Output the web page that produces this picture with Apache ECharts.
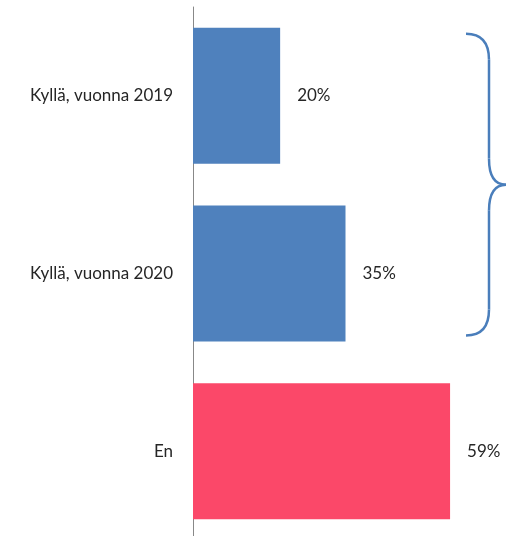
<!DOCTYPE html>
<html>
<head>
<meta charset="utf-8">
<script src="https://cdn.jsdelivr.net/npm/echarts@6/dist/echarts.min.js"></script>
<style>
  html, body { margin: 0; padding: 0; background: #fff; }
  #chart { width: 506px; height: 536px; }
</style>
</head>
<body>
<div id="chart"></div>
<script>
var categories = ['Kyllä, vuonna 2019', 'Kyllä, vuonna 2020', 'En'];
var values = [20, 35, 59];
var barColors = ['#4f81bd', '#4f81bd', '#fb4869'];

var myChart = echarts.init(document.getElementById('chart'));
var font = 'Lato';

var option = {
    animation: false,
    grid: { left: 193, right: 8, top: 7, bottom: -4, outerBoundsMode: 'none' },
    xAxis: {
        type: 'value',
        min: 0,
        max: 70,
        show: false
    },
    yAxis: {
        type: 'category',
        data: categories,
        inverse: true,
        axisLine: { show: true, lineStyle: { color: '#888888', width: 1 } },
        axisTick: { show: false },
        axisLabel: {
            color: '#262626',
            fontFamily: font,
            fontSize: 17,
            margin: 20
        }
    },
    series: [{
        type: 'bar',
        barWidth: 136,
        data: values.map(function (v, i) {
            return { value: v, itemStyle: { color: barColors[i] } };
        }),
        label: {
            show: true,
            position: 'right',
            distance: 17,
            formatter: '{c}%',
            color: '#262626',
            fontFamily: font,
            fontSize: 17
        }
    }]
};

myChart.setOption(option);

// curly brace grouping the two "Kyllä" bars
var braceTop = myChart.convertToPixel({ yAxisIndex: 0 }, 0) - 68 + 6;
var braceBottom = myChart.convertToPixel({ yAxisIndex: 0 }, 1) + 68 - 6;
var braceMid = (braceTop + braceBottom) / 2;
var x0 = 466, x1 = 489, x2 = 506, r = 26;

function braceStyle() {
    return { fill: null, stroke: '#4a7ebb', lineWidth: 2.5 };
}
function curve(sx, sy, cx, cy, ex, ey) {
    return {
        type: 'bezierCurve',
        shape: { x1: sx, y1: sy, cpx1: cx, cpy1: cy, x2: ex, y2: ey },
        style: braceStyle()
    };
}
function seg(sx, sy, ex, ey) {
    return {
        type: 'line',
        shape: { x1: sx, y1: sy, x2: ex, y2: ey },
        style: braceStyle()
    };
}

myChart.setOption({
    graphic: [
        curve(x0, braceTop, x1, braceTop, x1, braceTop + r),
        seg(x1, braceTop + r, x1, braceMid - r),
        curve(x1, braceMid - r, x1, braceMid, x2, braceMid),
        curve(x2, braceMid, x1, braceMid, x1, braceMid + r),
        seg(x1, braceMid + r, x1, braceBottom - r),
        curve(x1, braceBottom - r, x1, braceBottom, x0, braceBottom)
    ]
});
</script>
</body>
</html>
